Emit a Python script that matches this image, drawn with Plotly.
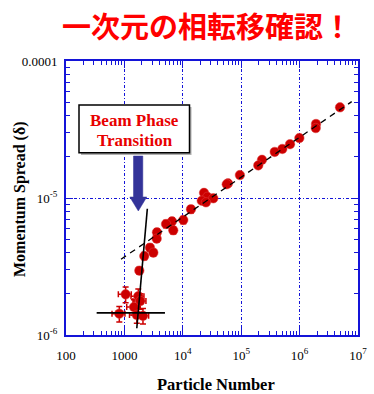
import plotly.graph_objects as go

# ---- data ----
particle_number = [4.92e6, 1.91e6, 1.89e6, 9.9e5, 6.86e5, 5.06e5, 3.75e5, 2.27e5, 1.96e5,
                   9.5e4, 5.94e4, 5.65e4, 2.31e4, 2.63e4, 3.33e4, 2.11e4, 2.49e4,
                   1.38e4, 1.02e4, 6.53e3, 5.15e3, 6.87e3, 3.61e3, 3.57e3, 2.74e3, 3.13e3,
                   2.19e3, 1.80e3,
                   1.05e3, 1.73e3, 1.87e3, 1.46e3, 818, 1.63e3, 2.08e3]
momentum_spread = [4.59e-5, 3.47e-5, 3.24e-5, 2.74e-5, 2.47e-5, 2.28e-5, 2.17e-5, 1.90e-5, 1.73e-5,
                   1.47e-5, 1.28e-5, 1.26e-5, 1.09e-5, 1.02e-5, 9.95e-6, 9.55e-6, 9.3e-6,
                   8.28e-6, 6.91e-6, 6.76e-6, 6.46e-6, 5.81e-6, 5.62e-6, 5.05e-6, 4.34e-6, 3.99e-6,
                   3.77e-6, 2.95e-6,
                   1.98e-6, 1.92e-6, 1.77e-6, 1.60e-6, 1.43e-6, 1.40e-6, 1.38e-6]
x_err_pct = [4] * 17 + [10] * 11 + [25] * 7
y_err_pct = [2] * 17 + [6] * 11 + [13] * 7

dash_fit_n = [875, 7.8e6]
dash_fit_dp = [3.57e-6, 5.05e-5]
steep_fit_n = [1.63e3, 2.47e3]
steep_fit_dp = [1.12e-6, 8.35e-6]
flat_fit_n = [335, 4.95e3]
flat_fit_dp = [1.45e-6, 1.45e-6]

x_tickvals = [1e2, 1e3, 1e4, 1e5, 1e6, 1e7]
x_ticktext = ["100", "1000", "10<sup>4</sup>", "10<sup>5</sup>", "10<sup>6</sup>", "10<sup>7</sup>"]
y_tickvals = [1e-6, 1e-5, 1e-4]
y_ticktext = ["10<sup>-6</sup>", "10<sup>-5</sup>", "0.0001"]

title_text = "一次元の相転移確認！"
box_lines = ["Beam Phase", "Transition"]
x_title = "Particle Number"
y_title = "Momentum Spread (δ)"

# ---- layout geometry (pixels of a 374x394 canvas) ----
W, H = 374, 394
L, R, T, B = 66, 358, 61, 335


def px(x):
    return (x - L) / (R - L)


def py(y):
    return (B - y) / (B - T)


RED = "#CC0000"
BLUE = "#1414D8"
SERIF = "Liberation Serif"

x_err = [n * p / 100 for n, p in zip(particle_number, x_err_pct)]
y_err = [d * p / 100 for d, p in zip(momentum_spread, y_err_pct)]

fig = go.Figure()
fig.add_trace(go.Scatter(
    x=particle_number, y=momentum_spread, mode="markers",
    marker=dict(size=9.5, color=RED, line=dict(width=0.5, color="#E04040")),
    error_x=dict(type="data", array=x_err, color=RED, thickness=1.5, width=3),
    error_y=dict(type="data", array=y_err, color=RED, thickness=1.5, width=3),
    showlegend=False))
fig.add_trace(go.Scatter(x=dash_fit_n, y=dash_fit_dp, mode="lines",
                         line=dict(color="black", width=1.3, dash="6px,5px"), showlegend=False))
fig.add_trace(go.Scatter(x=steep_fit_n, y=steep_fit_dp, mode="lines",
                         line=dict(color="black", width=1.6), showlegend=False))
fig.add_trace(go.Scatter(x=flat_fit_n, y=flat_fit_dp, mode="lines",
                         line=dict(color="black", width=1.6), showlegend=False))

minor_x = [k * 10 ** d for d in range(2, 7) for k in range(2, 10)]
minor_y = [k * 10 ** d for d in (-6, -5) for k in range(2, 10)]

axis_common = dict(
    type="log", showline=True, linecolor=BLUE, linewidth=2, mirror="ticks",
    ticks="inside", ticklen=7, tickcolor=BLUE, tickwidth=1.3,
    showgrid=True, gridcolor=BLUE, gridwidth=1, griddash="3px,2px,1px,2px",
    zeroline=False, tickmode="array", automargin=False,
    tickfont=dict(family=SERIF, size=13, color="black"),
)

fig.update_xaxes(**axis_common, range=[2, 7], tickvals=x_tickvals, ticktext=x_ticktext,
                 ticklabelstandoff=7,
                 minor=dict(tickmode="array", tickvals=minor_x, ticks="inside", ticklen=4,
                            tickcolor=BLUE, tickwidth=1, showgrid=False))
fig.update_yaxes(**axis_common, range=[-6, -4], tickvals=y_tickvals, ticktext=y_ticktext,
                 ticklabelstandoff=4,
                 minor=dict(tickmode="array", tickvals=minor_y, ticks="inside", ticklen=4,
                            tickcolor=BLUE, tickwidth=1, showgrid=False))

shapes = []
# callout box with a light shadow
shapes.append(dict(type="rect", xref="paper", yref="paper",
                   x0=px(81), x1=px(191.5), y0=py(155), y1=py(107),
                   fillcolor="#B0B0B0", line=dict(width=0), layer="above"))
shapes.append(dict(type="rect", xref="paper", yref="paper",
                   x0=px(79), x1=px(189.5), y0=py(152.7), y1=py(105),
                   fillcolor="white", line=dict(color="black", width=1.5), layer="above"))
# block arrow
arrow_pts = [(133.5, 156), (142.8, 156), (142.8, 197), (146.8, 197), (138.3, 211),
             (129.8, 197), (133.5, 197)]
path = "M " + " L ".join(f"{px(a):.5f},{py(b):.5f}" for a, b in arrow_pts) + " Z"
shapes.append(dict(type="path", xref="paper", yref="paper", path=path,
                   fillcolor="#333399", line=dict(color="#333399", width=0.5), layer="above"))

annotations = [
    dict(text=f"<b>{title_text}</b>", xref="paper", yref="paper", x=px(207), y=py(25),
         showarrow=False, font=dict(family="Noto Sans CJK JP", size=29, color="#FF0000"),
         xanchor="center", yanchor="middle"),
    dict(text=f"<b>{box_lines[0]}</b>", xref="paper", yref="paper", x=px(134.5), y=py(120),
         showarrow=False, font=dict(family=SERIF, size=17, color="#E80000"),
         xanchor="center", yanchor="middle"),
    dict(text=f"<b>{box_lines[1]}</b>", xref="paper", yref="paper", x=px(134.5), y=py(140),
         showarrow=False, font=dict(family=SERIF, size=17, color="#E80000"),
         xanchor="center", yanchor="middle"),
    dict(text=f"<b>{x_title}</b>", xref="paper", yref="paper", x=px(216), y=py(384),
         showarrow=False, font=dict(family=SERIF, size=16.5, color="black"),
         xanchor="center", yanchor="middle"),
    dict(text=f"<b>{y_title}</b>", xref="paper", yref="paper", x=px(20), y=py(199),
         showarrow=False, textangle=-90, font=dict(family=SERIF, size=16, color="black"),
         xanchor="center", yanchor="middle"),
]

fig.update_layout(
    width=W, height=H, autosize=False,
    margin=dict(l=L, r=W - R, t=T, b=H - B, pad=0),
    paper_bgcolor="white", plot_bgcolor="white",
    shapes=shapes, annotations=annotations, showlegend=False,
)

fig.write_html("out.html", config={"displayModeBar": False},
               post_script="document.body.style.margin='0';document.body.style.overflow='hidden';")
